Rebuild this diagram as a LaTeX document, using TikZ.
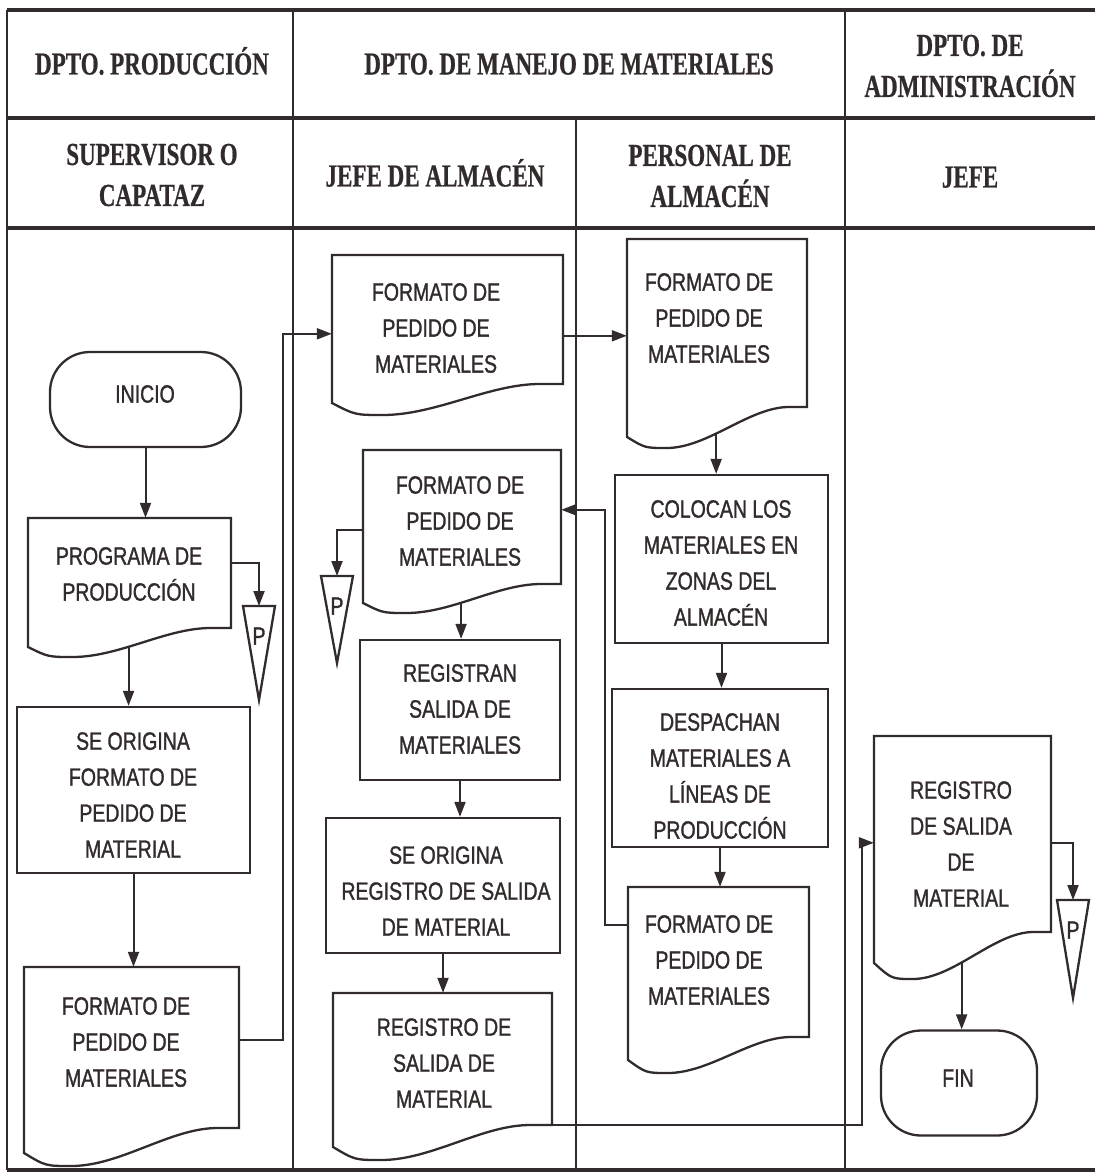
\documentclass[tikz,border=0pt]{standalone}
\usepackage{fontspec}
\setmainfont{Liberation Sans}[FakeStretch=0.78,FakeBold=1.2]
\newfontfamily\headfont{Liberation Serif}[FakeStretch=0.72,FakeBold=0.6]
\usetikzlibrary{arrows.meta,calc}
\definecolor{ink}{RGB}{50,43,43}
\tikzset{
  frame/.style={ink, line width=2.4pt},
  rowline/.style={ink, line width=3.6pt},
  shapeline/.style={ink, line width=2.3pt, line join=miter},
  box/.style={draw=ink, line width=2.3pt, inner sep=0pt},
  term/.style={draw=ink, line width=2.3pt, inner sep=0pt, rounded corners=40pt},
  arr/.style={ink, line width=2pt, -{Triangle[length=15pt,width=11pt]}},
  txt/.style={text=ink, align=center, inner sep=0pt, font=\fontsize{25}{36}\selectfont},
  head/.style={text=ink, align=center, inner sep=0pt, font=\headfont\bfseries\fontsize{32}{41}\selectfont},
  headone/.style={head, text height=21pt, text depth=0pt},
}
% document symbol: name, left x, top y, right x, left bottom y, right bottom y, lowest y of the wave
\newcommand\docshape[7]{%
  \pgfmathsetmacro\dw{#4-#2}%
  \pgfmathsetmacro\dh{#6-#3}%
  \pgfmathsetmacro\xa{#4-0.1*\dw}%
  \pgfmathsetmacro\xm{#2+0.22*\dw}%
  \pgfmathsetmacro\ca{#4-0.32*\dw}%
  \pgfmathsetmacro\cb{#2+0.45*\dw}%
  \pgfmathsetmacro\cc{#2+0.1*\dw}%
  \draw[shapeline] (#2,#3) -- (#4,#3) -- (#4,#6) -- (\xa,#6)
     .. controls (\ca,#6) and (\cb,#7) .. coordinate[pos=0.6] (#1-b) (\xm,#7)
     .. controls (\cc,#7) .. (#2,#5) -- cycle;
  \node[inner sep=0pt, minimum width=\dw pt, minimum height=\dh pt] (#1)
     at ({(#2+#4)/2},{(#3+#6)/2}) {};
}
% file symbol (inverted triangle with P): name, centre x, top y, apex y
\newcommand\ptri[4]{%
  \draw[shapeline] (#2-16,#3) -- (#2+16,#3) -- (#2,#4) -- cycle;
  \coordinate (#1) at (#2,#3);
  \node[txt] (#1-p) at (#2,#3+30) {P};
}
\begin{document}
\begin{tikzpicture}[x=1pt,y=-1pt]
\useasboundingbox (0,0) rectangle (1095,1174);

% swimlane table
\draw[rowline] (7,10) -- (1095,10);
\draw[rowline] (7,118) -- (1095,118);
\draw[rowline] (7,228) -- (1095,228);
\draw[rowline] (7,1170) -- (1095,1170);
\draw[frame] (7,10) -- (7,1170);
\draw[frame] (293,10) -- (293,1170);
\draw[frame] (576,118) -- (576,1170);
\draw[frame] (845,10) -- (845,1170);

% headings
\node[headone] (h1) at (152,64) {DPTO. PRODUCCIÓN};
\node[headone] (h2) at (569,64) {DPTO. DE MANEJO DE MATERIALES};
\node[head] (h3) at (970,66) {DPTO. DE\\ADMINISTRACIÓN};
\node[head] (s1) at (152,175) {SUPERVISOR O\\CAPATAZ};
\node[headone] (s2) at (435,176) {JEFE DE ALMACÉN};
\node[head] (s3) at (710,176) {PERSONAL DE\\ALMACÉN};
\node[headone] (s4) at (970,177) {JEFE};

% supervisor lane
\node[term, minimum width=191pt, minimum height=95pt] (ini) at (145.5,399.5) {};
\docshape{prog}{28}{518}{231}{647}{628}{657}
\ptri{pa}{259}{606}{700}
\node[box, minimum width=233pt, minimum height=166pt] (so1) at (133.5,790) {};
\docshape{fa}{24}{967}{239}{1153}{1128}{1166}

% warehouse chief lane
\docshape{fb}{332}{255}{563}{403}{384}{415}
\docshape{fc}{363}{450}{561}{603}{584}{613}
\ptri{pb}{337}{576}{663}
\node[box, minimum width=200pt, minimum height=140pt] (rb) at (460,710) {};
\node[box, minimum width=234pt, minimum height=135pt] (so2) at (443,885.5) {};
\docshape{rg}{333}{993}{552}{1147}{1125}{1160}

% warehouse staff lane
\docshape{fd}{627}{239}{807}{437}{407}{448}
\node[box, minimum width=213pt, minimum height=168pt] (col) at (721.5,559) {};
\node[box, minimum width=216pt, minimum height=158pt] (dsp) at (720,768) {};
\docshape{fe}{628}{887}{809}{1060}{1037}{1073}

% administration lane
\docshape{ra}{874}{736}{1051}{963}{932}{979}
\ptri{pc}{1073}{900}{998}
\node[term, minimum width=156pt, minimum height=105pt] (fin) at (959,1083) {};

% labels
\node[txt] (t-ini) at (145,394) {INICIO};
\node[txt] (t-prog) at (129,574) {PROGRAMA DE\\PRODUCCIÓN};
\node[txt] (t-so1) at (133,795) {SE ORIGINA\\FORMATO DE\\PEDIDO DE\\MATERIAL};
\node[txt] (t-fa) at (126,1042) {FORMATO DE\\PEDIDO DE\\MATERIALES};
\node[txt] (t-fb) at (436,328) {FORMATO DE\\PEDIDO DE\\MATERIALES};
\node[txt] (t-fc) at (460,521) {FORMATO DE\\PEDIDO DE\\MATERIALES};
\node[txt] (t-rb) at (460,709) {REGISTRAN\\SALIDA DE\\MATERIALES};
\node[txt] (t-so2) at (446,891) {SE ORIGINA\\REGISTRO DE SALIDA\\DE MATERIAL};
\node[txt] (t-rg) at (444,1063) {REGISTRO DE\\SALIDA DE\\MATERIAL};
\node[txt] (t-fd) at (709,318) {FORMATO DE\\PEDIDO DE\\MATERIALES};
\node[txt] (t-col) at (721,563) {COLOCAN LOS\\MATERIALES EN\\ZONAS DEL\\ALMACÉN};
\node[txt] (t-dsp) at (720,776) {DESPACHAN\\MATERIALES A\\LÍNEAS DE\\PRODUCCIÓN};
\node[txt] (t-fe) at (709,960) {FORMATO DE\\PEDIDO DE\\MATERIALES};
\node[txt] (t-ra) at (961,844) {REGISTRO\\DE SALIDA\\DE\\MATERIAL};
\node[txt] (t-fin) at (958,1078) {FIN};

% bend columns for the routed connectors
\coordinate (k1) at (283,0);
\coordinate (k2) at (605,0);
\coordinate (k3) at (862,0);
\path ($(fa.north east)+(0,73)$) coordinate (a1)
      ($(fb.north west)+(0,79)$) coordinate (b1)
      ($(fb.north east)+(0,81)$) coordinate (a2)
      ($(fe.north west)+(0,38)$) coordinate (a3)
      ($(fc.north east)+(0,60)$) coordinate (b3)
      ($(ra.north west)+(0,107)$) coordinate (b4)
      ($(ra.north east)+(0,107)$) coordinate (a5)
      ($(prog.north east)+(0,45)$) coordinate (a6)
      ($(fc.north west)+(0,80)$) coordinate (a7);

% connectors
\draw[arr] (ini.south) -- (ini.south |- prog.north);
\draw[arr] (prog-b) -- (prog-b |- so1.north);
\draw[arr] (a6) -| (pa);
\draw[arr] (so1.south) -- (so1.south |- fa.north);
\draw[arr] (a1) -- (a1 -| k1) -- (k1 |- b1) -- (b1);
\draw[arr] (a2) -- (a2 -| fd.west);
\draw[arr] (a7) -| (pb);
\draw[arr] (fc-b) -- (fc-b |- rb.north);
\draw[arr] (rb.south) -- (rb.south |- so2.north);
\draw[arr] (so2.south) -- (so2.south |- rg.north);
\draw[arr] (fd-b) -- (fd-b |- col.north);
\draw[arr] (col.south) -- (col.south |- dsp.north);
\draw[arr] (dsp.south) -- (dsp.south |- fe.north);
\draw[arr] (a3) -- (a3 -| k2) -- (k2 |- b3) -- (b3);
\draw[arr] (rg.south east) -- (rg.south east -| k3) -- (k3 |- b4) -- (b4);
\draw[arr] (a5) -| (pc);
\draw[arr] (ra-b) -- (ra-b |- fin.north);
\end{tikzpicture}
\end{document}
